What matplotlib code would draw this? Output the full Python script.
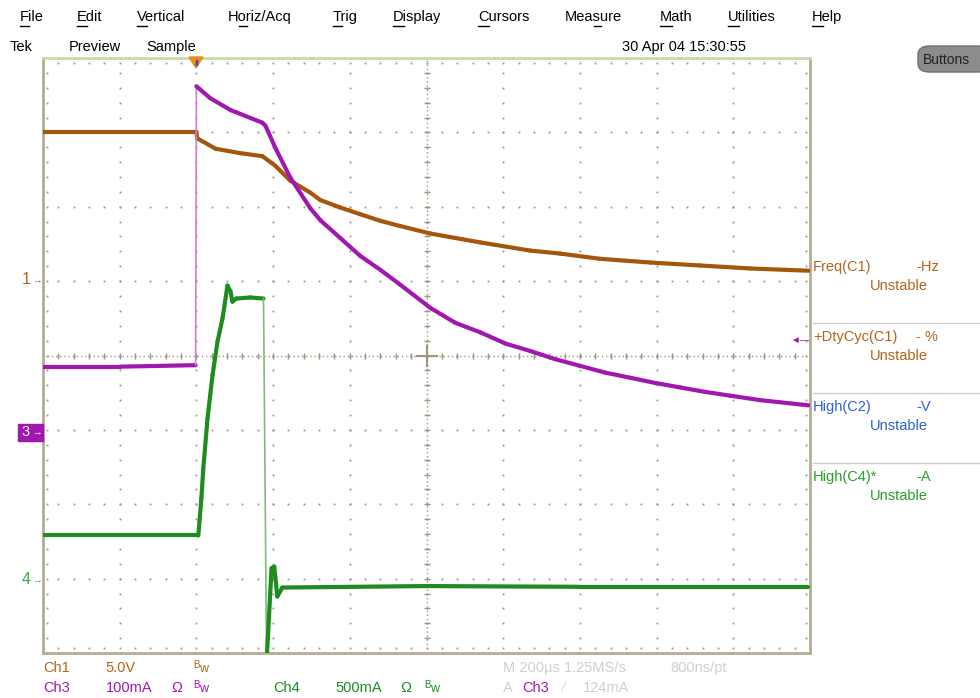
import matplotlib
matplotlib.use("Agg")
import matplotlib.pyplot as plt
import numpy as np
from matplotlib.collections import LineCollection
from matplotlib.patches import FancyBboxPatch, Rectangle, Polygon

plt.rcParams['font.family'] = ['Liberation Sans', 'DejaVu Sans']

# ---- trace data (time in us, trigger at 0) ----
# Ch1: volts, 5 V/div, ground marker at +1 div
ch1_t = [-400, -200, 0, 2, 50, 115, 172, 206, 245, 297, 323, 375, 427, 480, 532, 610, 675,
         741, 871, 949, 1053, 1184, 1314, 1444, 1596]
ch1_v = [10.05, 10.05, 10.05, 9.6, 8.9, 8.6, 8.4, 7.75, 6.75, 5.95, 5.45, 4.95, 4.5, 4.05, 3.7,
         3.2, 2.9, 2.6, 2.05, 1.85, 1.5, 1.25, 1.05, 0.85, 0.7]

# Ch3: mA, 100 mA/div, ground marker at -1 div
ch3_t = [-400, -200, -2, 0, 36, 89, 172, 180, 206, 245, 297, 323, 375, 427, 480, 532, 610,
         675, 741, 806, 871, 936, 1001, 1066, 1132, 1197, 1262, 1327, 1392, 1470, 1596]
ch3_i = [85, 85, 87, 462, 446, 430, 413, 409, 379, 339, 298, 282, 258, 234, 215, 195, 164,
         144, 131, 116, 106, 95, 86, 77, 70, 63, 57, 51, 46, 40, 33]

# Ch4: mA, 500 mA/div, ground marker at -3 div
ch4_t = [-400, -200, 5, 13, 18, 29, 42, 55, 68, 81, 89, 94, 104, 140, 175, 183, 196, 203, 211,
         224, 600, 1000, 1596]
ch4_i = [290, 290, 290, 540, 740, 1077, 1367, 1593, 1748, 1970, 1930, 1862, 1883, 1890, 1883,
         -560, 70, 80, -120, -60, -50, -55, -55]

ch_scale = {"ch1": 5.0, "ch3": 100.0, "ch4": 500.0}
ch_offset = {"ch1": 1.0, "ch3": -1.0, "ch4": -3.0}

meas_names = ["Freq(C1)", "+DtyCyc(C1)", "High(C2)", "High(C4)*"]
meas_units = ["-Hz", "- %", "-V", "-A"]
meas_values = ["Unstable", "Unstable", "Unstable", "Unstable"]

menu_items = ["File", "Edit", "Vertical", "Horiz/Acq", "Trig", "Display",
              "Cursors", "Measure", "Math", "Utilities", "Help"]
menu_underline = [0, 0, 0, 1, 0, 0, 0, 3, 0, 0, 0]

BROWN = "#a4560c"
BROWN_T = "#b0661c"
PURPLE = "#a018b0"
PURPLE_L = "#d47ad8"
GREEN = "#1e8c1e"
GREEN_L = "#78c078"
BLUE_T = "#2a62d0"
GRID = "#9e967e"
BORDER = "#b4ac94"

W, H = 980, 698
fig = plt.figure(figsize=(W / 100, H / 100), dpi=100)
fig.patch.set_facecolor("white")


def fx(x):
    return x / W


def fy(y):
    return 1 - y / H


ax = fig.add_axes([fx(43), fy(653), (810 - 43) / W, (653 - 58) / H])
ax.set_xlim(-400, 1600)
ax.set_ylim(-4, 4)
ax.set_xticks([])
ax.set_yticks([])
for side in ["left", "bottom", "right"]:
    ax.spines[side].set_color(BORDER)
    ax.spines[side].set_linewidth(2)
ax.spines["top"].set_color("#c4dcae")
ax.spines["top"].set_linewidth(2)

# graticule: dotted division lines
div_x = np.linspace(-400, 1600, 11)
div_y = np.linspace(-4, 4, 9)
minor_x = np.linspace(-400, 1600, 51)
minor_y = np.linspace(-4, 4, 41)
for xv in div_x:
    ax.plot(np.full_like(minor_y, xv), minor_y, ls="none", marker="s", ms=1.3,
            color=GRID, mew=0, zorder=1)
for yv in div_y:
    ax.plot(minor_x, np.full_like(minor_x, yv), ls="none", marker="s", ms=1.3,
            color=GRID, mew=0, zorder=1)
# border ticks
ax.plot(np.full_like(minor_y, -390), minor_y, ls="none", marker="s", ms=1.3, color=GRID, mew=0)
ax.plot(np.full_like(minor_y, 1590), minor_y, ls="none", marker="s", ms=1.3, color=GRID, mew=0)
ax.plot(minor_x, np.full_like(minor_x, -3.93), ls="none", marker="s", ms=1.3, color=GRID, mew=0)
ax.plot(minor_x, np.full_like(minor_x, 3.93), ls="none", marker="s", ms=1.3, color=GRID, mew=0)
# centre cross
ax.axhline(0, color=GRID, lw=1, ls=(0, (1, 2)), zorder=1)
ax.axvline(600, color=GRID, lw=1, ls=(0, (1, 2)), zorder=1)
ax.plot(minor_x, np.zeros_like(minor_x), ls="none", marker="|", ms=5, mew=1, color=GRID, zorder=1)
ax.plot(np.full_like(minor_y, 600), minor_y, ls="none", marker="_", ms=5, mew=1, color=GRID, zorder=1)
ax.plot([600], [0], marker="+", ms=16, mew=1.5, color=GRID, zorder=1)


def draw_trace(t, vals, key, color, light):
    t = np.asarray(t, float)
    y = ch_offset[key] + np.asarray(vals, float) / ch_scale[key]
    pts = np.column_stack([t, y])
    segs = np.stack([pts[:-1], pts[1:]], axis=1)
    slope = np.abs(np.diff(y)) / np.maximum(np.diff(t), 1e-6)
    fast = slope > 0.1
    widths = np.where(fast, 1.2, 3.0)
    colors = [light if f else color for f in fast]
    lc = LineCollection(segs, linewidths=widths, colors=colors, capstyle="round",
                        joinstyle="round", zorder=3)
    ax.add_collection(lc)


draw_trace(ch1_t, ch1_v, "ch1", BROWN, BROWN)
draw_trace(ch4_t, ch4_i, "ch4", GREEN, GREEN_L)
draw_trace(ch3_t, ch3_i, "ch3", PURPLE, PURPLE_L)

# trigger marker
fig.patches.append(Polygon([[fx(189), fy(57)], [fx(203), fy(57)], [fx(196), fy(68)]],
                           closed=True, transform=fig.transFigure, color="#f08a10", zorder=5))
fig.patches.append(Rectangle((fx(195.5), fy(65)), 1 / W, 5 / H, transform=fig.transFigure,
                             color="#3050c0", zorder=6))

# ---- menu bar ----
menu_x = [20, 77, 137, 228, 333, 393, 478, 565, 660, 728, 812]
renderer = fig.canvas.get_renderer()
for name, x, ui in zip(menu_items, menu_x, menu_underline):
    fig.text(fx(x), fy(17), name, fontsize=10.5, va="center", ha="left", color="black")
    pre = fig.text(fx(x), fy(17), name[:ui] if ui else "", fontsize=10.5, va="center")
    cur = fig.text(fx(x), fy(17), name[:ui + 1], fontsize=10.5, va="center")
    x0 = x + (pre.get_window_extent(renderer).width if ui else 0)
    x1 = x + cur.get_window_extent(renderer).width
    pre.remove()
    cur.remove()
    fig.lines.append(plt.Line2D([fx(x0), fx(x1)], [fy(26), fy(26)], transform=fig.transFigure,
                                color="black", lw=1))

fig.text(fx(10), fy(47), "Tek", fontsize=10.5, va="center")
fig.text(fx(69), fy(47), "Preview", fontsize=10.5, va="center")
fig.text(fx(146), fy(47), "Sample", fontsize=10.5, va="center")
fig.text(fx(622), fy(47), "30 Apr 04 15:30:55", fontsize=10.5, va="center")

btn = FancyBboxPatch((fx(918), fy(72)), 72 / W, 26 / H, boxstyle="round,pad=0,rounding_size=0.012",
                     transform=fig.transFigure, facecolor="#8c8c8c", edgecolor="#6e6e6e", lw=1)
fig.patches.append(btn)
fig.text(fx(923), fy(60), "Buttons", fontsize=10, va="center", color="#202020")

# ---- channel ground markers ----
fig.text(fx(22), fy(280), "1", fontsize=11.5, va="center", color=BROWN_T)
fig.text(fx(32), fy(280), "\u2192", fontsize=7, va="center", color=BROWN_T)
fig.patches.append(Rectangle((fx(18), fy(441)), 25 / W, 17 / H, transform=fig.transFigure,
                             color=PURPLE, zorder=5))
fig.text(fx(21), fy(432), "3", fontsize=10.5, va="center", color="white", zorder=6)
fig.text(fx(32), fy(432), "\u2192", fontsize=7, va="center", color="white", zorder=6)
fig.text(fx(22), fy(580), "4", fontsize=11.5, va="center", color="#40a840")
fig.text(fx(32), fy(580), "\u2192", fontsize=7, va="center", color="#40a840")

# right-edge purple indicator
fig.text(fx(790), fy(340), "\u25c4\u2014", fontsize=7, va="center", color=PURPLE)

# ---- measurement panel ----
meas_colors = [BROWN_T, BROWN_T, BLUE_T, "#28a028"]
for i, (nm, un, vl, c) in enumerate(zip(meas_names, meas_units, meas_values, meas_colors)):
    y0 = 267 + 70 * i
    fig.text(fx(813), fy(y0), nm, fontsize=10.5, va="center", color=c)
    fig.text(fx(916), fy(y0), un, fontsize=10.5, va="center", color=c)
    fig.text(fx(870), fy(y0 + 19), vl, fontsize=10.5, va="center", color=c)
    if i < 3:
        fig.lines.append(plt.Line2D([fx(813), 1], [fy(y0 + 56), fy(y0 + 56)],
                                    transform=fig.transFigure, color="#cfcfcf", lw=1))

# ---- bottom status ----
fs = 10.5
fig.text(fx(43), fy(668), "Ch1", fontsize=fs, va="center", color=BROWN_T)
fig.text(fx(105), fy(668), "5.0V", fontsize=fs, va="center", color=BROWN_T)
fig.text(fx(193), fy(665), "B", fontsize=7, va="center", color=BROWN_T)
fig.text(fx(199), fy(669), "w", fontsize=9, va="center", color=BROWN_T)

fig.text(fx(43), fy(688), "Ch3", fontsize=fs, va="center", color=PURPLE)
fig.text(fx(106), fy(688), "100mA", fontsize=fs, va="center", color=PURPLE)
fig.text(fx(171), fy(688), "\u03a9", fontsize=fs, va="center", color=PURPLE)
fig.text(fx(193), fy(685), "B", fontsize=7, va="center", color=PURPLE)
fig.text(fx(199), fy(689), "w", fontsize=9, va="center", color=PURPLE)

fig.text(fx(273), fy(688), "Ch4", fontsize=fs, va="center", color=GREEN)
fig.text(fx(335), fy(688), "500mA", fontsize=fs, va="center", color=GREEN)
fig.text(fx(400), fy(688), "\u03a9", fontsize=fs, va="center", color=GREEN)
fig.text(fx(424), fy(685), "B", fontsize=7, va="center", color=GREEN)
fig.text(fx(430), fy(689), "w", fontsize=9, va="center", color=GREEN)

GRAY_T = "#cfcfcf"
fig.text(fx(503), fy(668), "M 200\u00b5s 1.25MS/s", fontsize=fs, va="center", color=GRAY_T)
fig.text(fx(670), fy(668), "800ns/pt", fontsize=fs, va="center", color=GRAY_T)
fig.text(fx(503), fy(688), "A", fontsize=fs, va="center", color=GRAY_T)
fig.text(fx(522), fy(688), "Ch3", fontsize=fs, va="center", color=PURPLE)
fig.text(fx(563), fy(688), "\u2215", fontsize=9, va="center", color=GRAY_T)
fig.text(fx(583), fy(688), "124mA", fontsize=fs, va="center", color=GRAY_T)

fig.savefig("out.png", dpi=100, facecolor="white")
